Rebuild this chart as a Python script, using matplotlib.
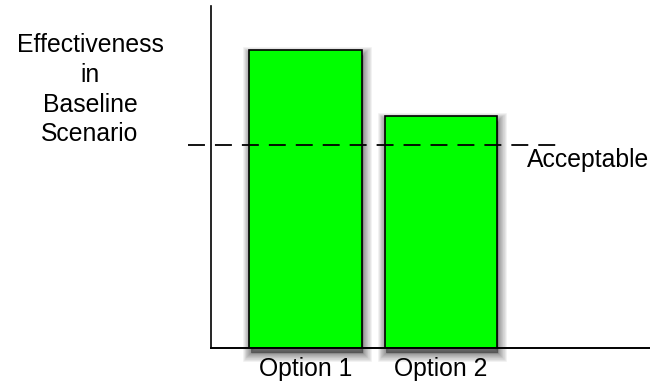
import matplotlib
matplotlib.use("Agg")
import matplotlib.pyplot as plt
from matplotlib.transforms import ScaledTranslation

plt.rcParams['font.family'] = ['Liberation Sans', 'DejaVu Sans']

categories = ['Option 1', 'Option 2']
values = [87.1, 67.9]
acceptable = 59.3
ylabel_text = "Effectiveness\nin\nBaseline\nScenario"
line_label = "Acceptable"

FS = 17.8

fig = plt.figure(figsize=(6.5, 3.83), dpi=100)
ax = fig.add_axes([210.7/650, (383-347.7)/383, (650-210.7)/650, (347.7-6)/383])

x = list(range(len(categories)))
width = 0.83

# soft drop shadow
shadow_tr = ax.transData + ScaledTranslation(1.5/100, -5/100, fig.dpi_scale_trans)
for k in range(0, 9):
    ax.bar(x, values, width=width, color='black', edgecolor='black', alpha=0.06,
           linewidth=k * 1.5, transform=shadow_tr, clip_on=False, zorder=1)

ax.bar(x, values, width=width, color='#00ff00', edgecolor='black', linewidth=1.2, zorder=3)

lw = 1.3
ax.plot([-0.866, 1.866], [acceptable, acceptable], color='black', linewidth=lw,
        dashes=(12.2 / lw, 7.2 / lw), clip_on=False, zorder=4)
ax.text(1.637, acceptable - 4.4, line_label, fontsize=FS, ha='left', va='center', zorder=5)

ax.set_xlim(-0.699, 2.546)
ax.set_ylim(0, 100)
ax.set_xticks(x)
ax.set_xticklabels(categories, fontsize=FS)
ax.tick_params(axis='x', length=0, pad=7)
ax.set_yticks([])
for s in ['top', 'right']:
    ax.spines[s].set_visible(False)
ax.spines['left'].set_linewidth(1.2)
ax.spines['bottom'].set_linewidth(1.4)
ax.spines['bottom'].set_zorder(5)

ax.set_ylabel(ylabel_text, rotation=0, fontsize=FS, ha='center', va='center', linespacing=1.3)
ax.yaxis.set_label_coords(-0.2747, 0.755)

fig.savefig('out.png', dpi=100)
